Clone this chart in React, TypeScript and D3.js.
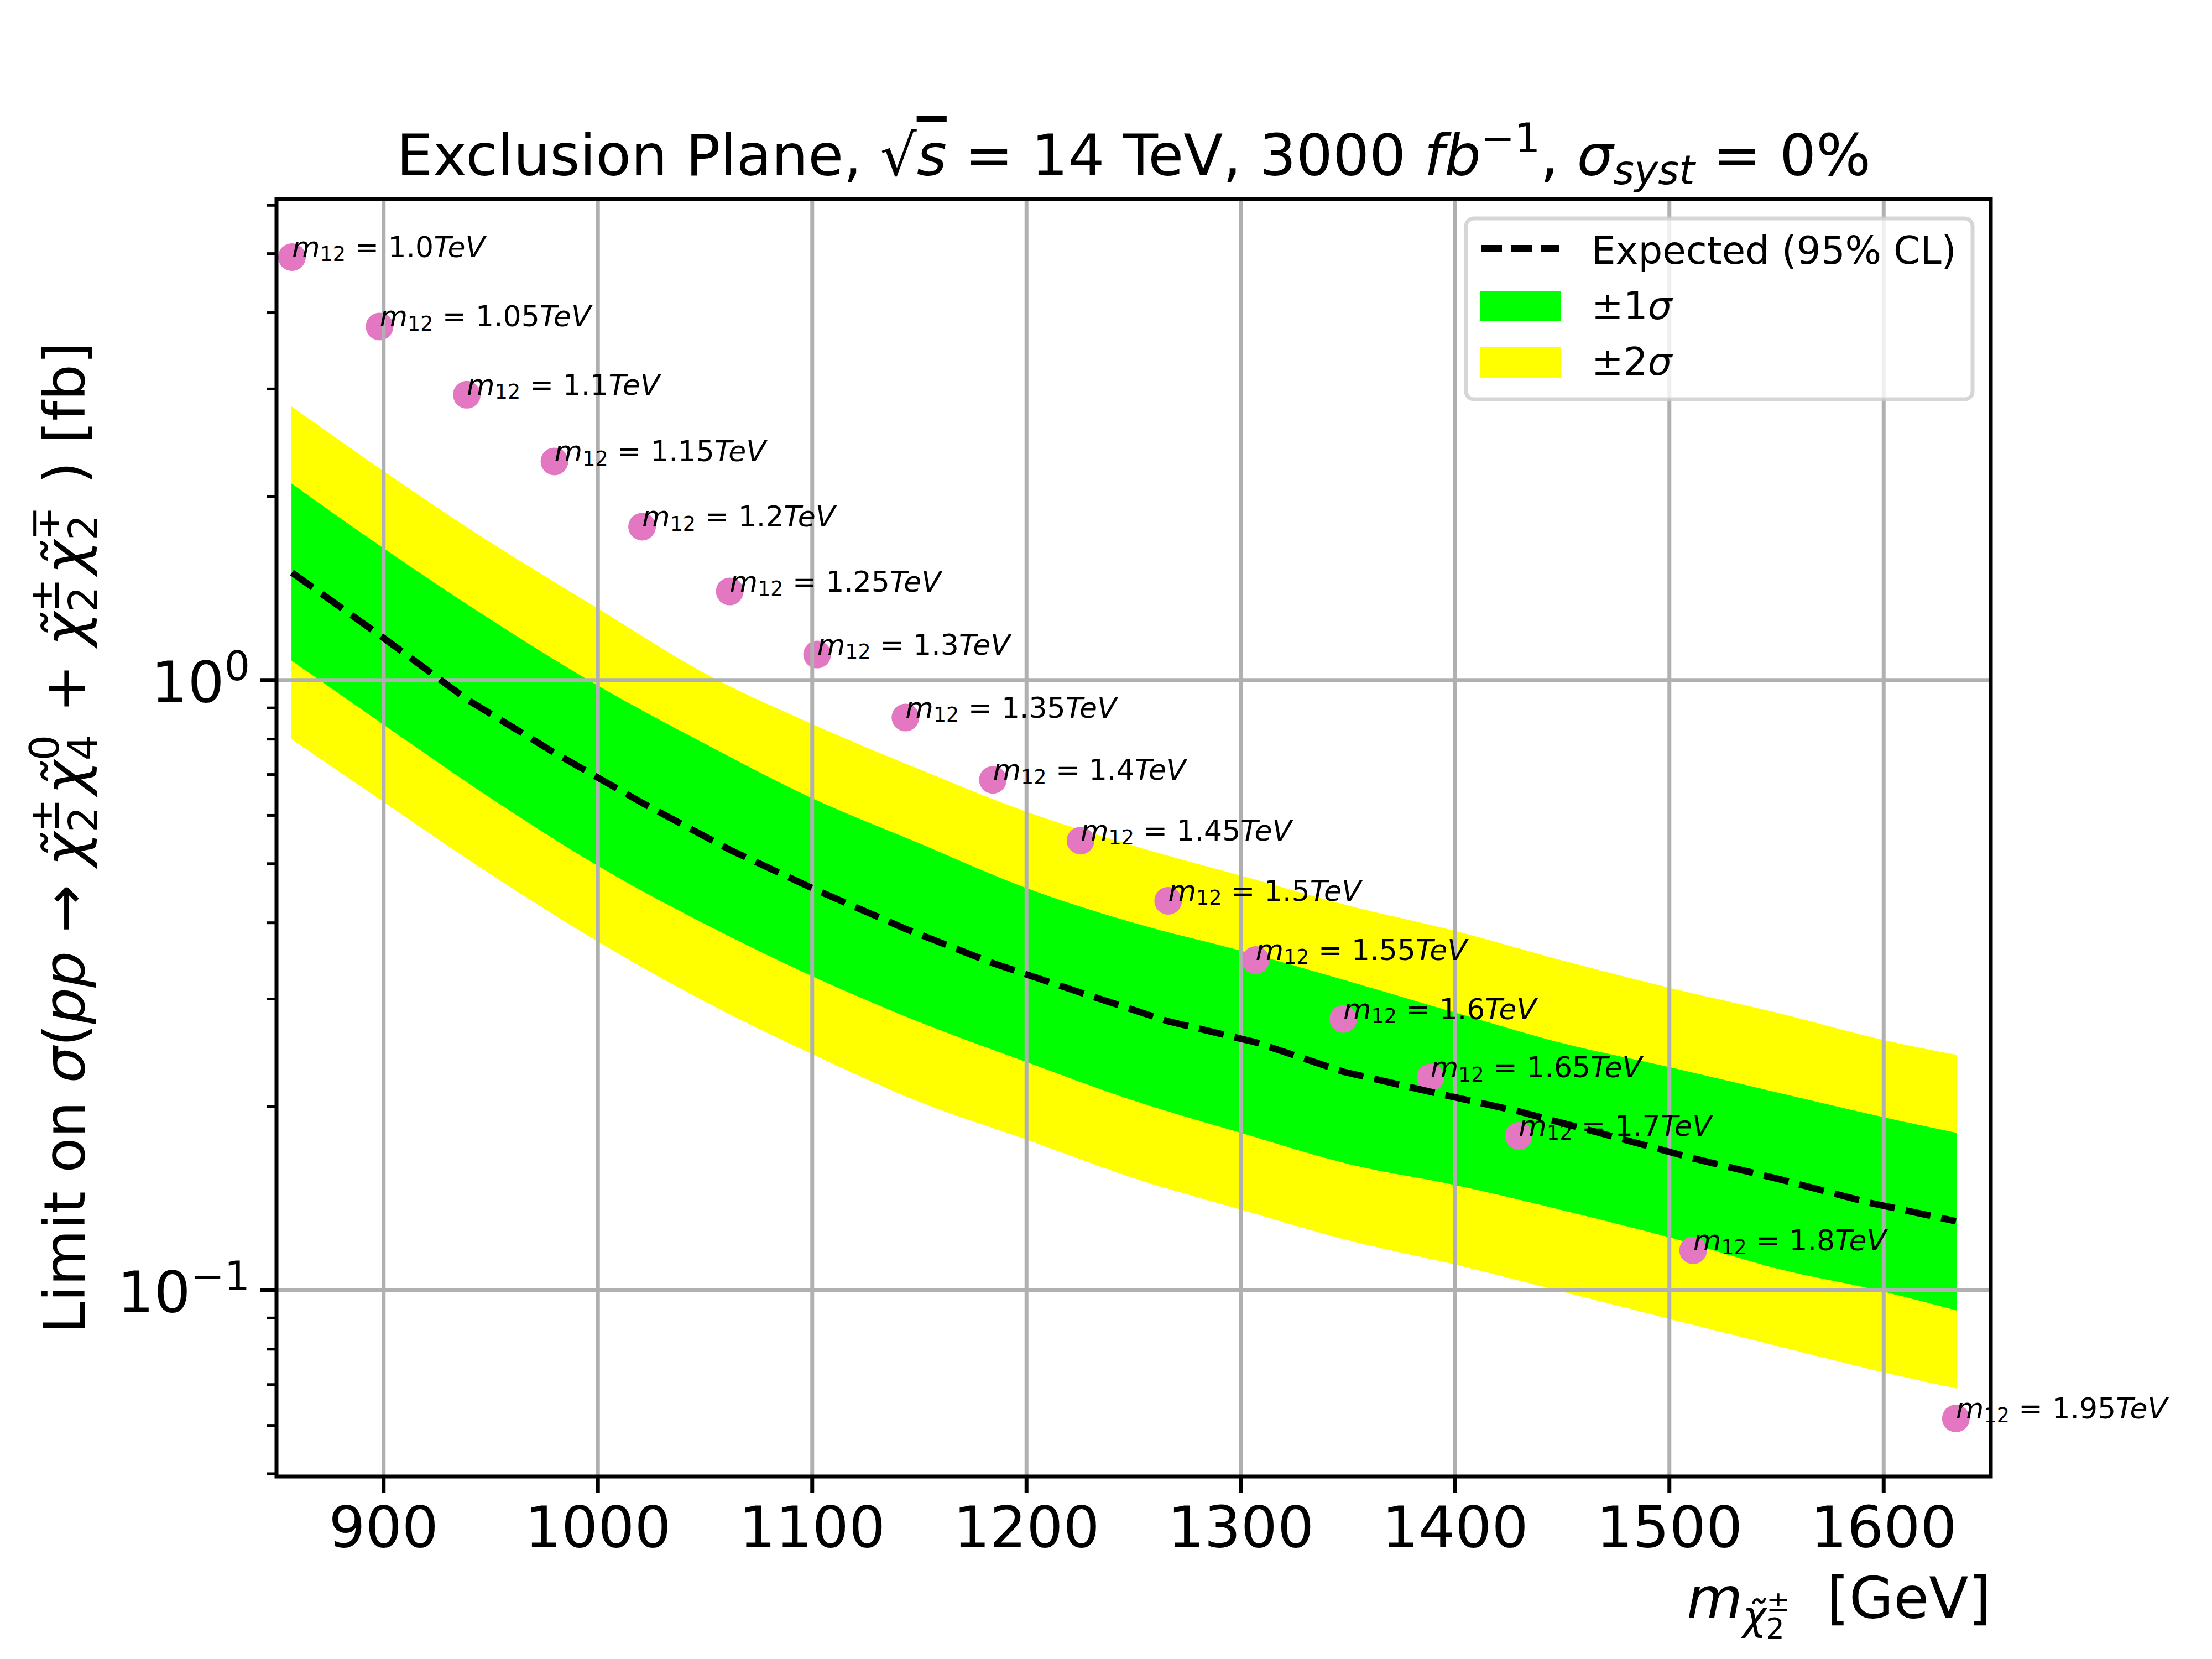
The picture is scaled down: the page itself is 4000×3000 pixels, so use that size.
import * as d3 from "d3";

// ---- data ----
const bandMass = [857, 900, 950, 1000, 1050, 1100, 1150, 1200, 1250, 1300, 1350, 1400, 1450, 1500, 1550, 1600, 1634];
const twoSigmaUp = [2.81, 2.2, 1.68, 1.31, 1.025, 0.847, 0.714, 0.608, 0.535, 0.478, 0.427, 0.388, 0.347, 0.313, 0.285, 0.257, 0.243];
const oneSigmaUp = [2.1, 1.644, 1.256, 0.979, 0.786, 0.64, 0.54, 0.456, 0.4, 0.36, 0.321, 0.285, 0.254, 0.232, 0.211, 0.192, 0.181];
const oneSigmaDown = [1.076, 0.845, 0.64, 0.496, 0.398, 0.327, 0.275, 0.2365, 0.2044, 0.181, 0.161, 0.1486, 0.1352, 0.122, 0.1085, 0.0994, 0.0926];
const twoSigmaDown = [0.8, 0.631, 0.48, 0.3725, 0.297, 0.2436, 0.2035, 0.1765, 0.1526, 0.1355, 0.1207, 0.1101, 0.0994, 0.0897, 0.081, 0.0733, 0.069];

const expMass = [857.2, 898.1, 938.8, 979.7, 1020.6, 1061.5, 1102.3, 1143.5, 1184.3, 1225.2, 1266.1, 1306.9, 1347.8, 1388.5, 1429.7, 1470.4, 1511.1, 1551.9, 1592.8, 1633.7];
const expLimit = [1.5, 1.185, 0.93, 0.76, 0.629, 0.527, 0.452, 0.391, 0.3435, 0.3074, 0.2758, 0.2548, 0.228, 0.2113, 0.1963, 0.1798, 0.1644, 0.1518, 0.1392, 0.1297];

const m12Labels = ["1.0", "1.05", "1.1", "1.15", "1.2", "1.25", "1.3", "1.35", "1.4", "1.45", "1.5", "1.55", "1.6", "1.65", "1.7", "1.8", "1.95"];
const pointMass = [857.2, 898.1, 938.8, 979.7, 1020.6, 1061.5, 1102.3, 1143.5, 1184.3, 1225.2, 1266.1, 1306.9, 1347.8, 1388.5, 1429.7, 1511.1, 1633.7];
const pointXsec = [4.934, 3.797, 2.935, 2.282, 1.784, 1.397, 1.101, 0.868, 0.686, 0.5454, 0.4346, 0.3475, 0.2782, 0.2231, 0.179, 0.1162, 0.0616];

const xTicks = [900, 1000, 1100, 1200, 1300, 1400, 1500, 1600];
const yTicks = [0.1, 1];
const yTickExp = ["\u22121", "0"];

// ---- layout ----
const W = 4000;
const H = 3000;
const L = 500;
const R = 3600;
const T = 360;
const B = 2670;
const FONT = "DejaVu Sans";
const FS = 104;

type Seg = { t: string; it?: boolean; s?: number; sh?: number; dx?: number; over?: boolean };

const charW: Record<string, number> = { "\u00b1": 0.838, "\u2213": 0.838, "0": 0.636, "1": 0.636, "2": 0.636, "4": 0.636 };
const wOf = (s: string) => s.split("").reduce((a, c) => a + (charW[c] ?? 0.6), 0);

function stack(sup: string, sub: string, s = 0.7, base = 0, k = 1): Seg[] {
  const supSeg: Seg = { t: sup, s, sh: base + 0.45 * k };
  const subSeg: Seg = { t: sub, s, sh: base - 0.22 * k };
  const wSup = wOf(sup) * s;
  const wSub = wOf(sub) * s;
  if (wSup >= wSub) return [subSeg, { ...supSeg, dx: -wSub }];
  return [supSeg, { ...subSeg, dx: -wSup }];
}

function Rich({ segs, fs }: { segs: Seg[]; fs: number }) {
  let cur = 0;
  return (
    <>
      {segs.map((g, i) => {
        const sh = g.sh ?? 0;
        const dy = -(sh - cur) * fs;
        cur = sh;
        return (
          <tspan
            key={i}
            dy={dy ? dy : undefined}
            dx={g.dx ? g.dx * fs : undefined}
            fontSize={(g.s ?? 1) * fs}
            fontStyle={g.it ? "italic" : undefined}
            textDecoration={g.over ? "overline" : undefined}
          >
            {g.t}
          </tspan>
        );
      })}
    </>
  );
}

const chi = "\u03c7\u0303";
const scriptSpace = 0.07;

const titleSegs: Seg[] = [
  { t: "Exclusion Plane, " },
  { t: "\u221a" },
  { t: "s", it: true, over: true },
  { t: " = 14 TeV, 3000 " },
  { t: "fb", it: true },
  { t: "\u22121", s: 0.7, sh: 0.4 },
  { t: ", ", sh: 0 },
  { t: "\u03c3", it: true },
  { t: "syst", it: true, s: 0.7, sh: -0.15 },
  { t: " = 0%", sh: 0 },
];

const ylabelSegs: Seg[] = [
  { t: "Limit on " },
  { t: "\u03c3", it: true },
  { t: "(" },
  { t: "pp", it: true },
  { t: " \u2192 " },
  { t: chi, it: true },
  ...stack("\u00b1", "2"),
  { t: chi, it: true, sh: 0, dx: scriptSpace },
  ...stack("0", "4"),
  { t: " + ", sh: 0, dx: scriptSpace },
  { t: chi, it: true },
  ...stack("\u00b1", "2"),
  { t: chi, it: true, sh: 0, dx: scriptSpace },
  ...stack("\u2213", "2"),
  { t: " )", sh: 0, dx: scriptSpace },
  { t: " [fb]" },
];

const xlabelSegs: Seg[] = [
  { t: "m", it: true },
  { t: chi, it: true, s: 0.7, sh: -0.2 },
  ...stack("\u00b1", "2", 0.49, -0.2, 0.7),
  { t: "  [GeV]", sh: 0 },
];

export default function App() {
  const x = d3.scaleLinear().domain([850, 1650]).range([L, R]);
  const lmin = Math.log10(d3.min(pointXsec) as number);
  const lmax = Math.log10(d3.max(pointXsec) as number);
  const pad = 0.05 * (lmax - lmin);
  const y = d3
    .scaleLog()
    .domain([Math.pow(10, lmin - pad), Math.pow(10, lmax + pad)])
    .range([B, T]);

  const [y0, y1] = y.domain();
  const minor: number[] = [];
  for (let k = -2; k <= 1; k++) {
    for (let d = 2; d <= 9; d++) {
      const v = d * Math.pow(10, k);
      if (v >= y0 && v <= y1) minor.push(v);
    }
  }

  const band = (lo: number[], hi: number[]) =>
    d3
      .area<number>()
      .x((m) => x(m))
      .y0((_, i) => y(lo[i]))
      .y1((_, i) => y(hi[i]))
      .curve(d3.curveMonotoneX)(bandMass) as string;

  const expPath = d3
    .line<number>()
    .x((m) => x(m))
    .y((_, i) => y(expLimit[i]))(expMass) as string;

  return (
    <svg
      width={W}
      height={H}
      viewBox={`0 0 ${W} ${H}`}
      style={{ position: "absolute", left: 0, top: 0, display: "block", background: "#ffffff" }}
      fontFamily={FONT}
      xmlSpace="preserve"
    >
      <rect x={0} y={0} width={W} height={H} fill="#ffffff" />

      {/* bands */}
      <path d={band(twoSigmaDown, twoSigmaUp)} fill="#ffff00" />
      <path d={band(oneSigmaDown, oneSigmaUp)} fill="#00ff00" />

      {/* scatter points */}
      {pointMass.map((m, i) => (
        <circle key={`p${i}`} cx={x(m)} cy={y(pointXsec[i])} r={25} fill="#e377c2" />
      ))}

      {/* grid */}
      {xTicks.map((t) => (
        <line key={`gx${t}`} x1={x(t)} x2={x(t)} y1={T} y2={B} stroke="#b0b0b0" strokeWidth={7} />
      ))}
      {yTicks.map((t) => (
        <line key={`gy${t}`} x1={L} x2={R} y1={y(t)} y2={y(t)} stroke="#b0b0b0" strokeWidth={7} />
      ))}

      {/* expected */}
      <path d={expPath} fill="none" stroke="#000000" strokeWidth={12} strokeDasharray="46 20" />

      {/* annotations */}
      {pointMass.map((m, i) => (
        <text key={`a${i}`} x={x(m)} y={y(pointXsec[i])} fontSize={52} fill="#000" style={{ whiteSpace: "pre" }}>
          <Rich
            fs={52}
            segs={[
              { t: "m", it: true },
              { t: "12", s: 0.7, sh: -0.14 },
              { t: ` = ${m12Labels[i]}`, sh: 0 },
              { t: "TeV", it: true },
            ]}
          />
        </text>
      ))}

      {/* spines */}
      <rect x={L} y={T} width={R - L} height={B - T} fill="none" stroke="#000" strokeWidth={7} />

      {/* x ticks */}
      {xTicks.map((t) => (
        <g key={`xt${t}`}>
          <line x1={x(t)} x2={x(t)} y1={B} y2={B + 30} stroke="#000" strokeWidth={7} />
          <text x={x(t)} y={2798} fontSize={FS} textAnchor="middle" fill="#000">
            {t}
          </text>
        </g>
      ))}

      {/* y ticks */}
      {minor.map((v) => (
        <line key={`ym${v}`} x1={L} x2={L - 17} y1={y(v)} y2={y(v)} stroke="#000" strokeWidth={5} />
      ))}
      {yTicks.map((t, i) => (
        <g key={`yt${t}`}>
          <line x1={L} x2={L - 30} y1={y(t)} y2={y(t)} stroke="#000" strokeWidth={7} />
          <text x={452} y={y(t) + 40} fontSize={FS} textAnchor="end" fill="#000">
            <tspan>10</tspan>
            <tspan fontSize={FS * 0.7} dy={-40}>
              {yTickExp[i]}
            </tspan>
          </text>
        </g>
      ))}

      {/* title */}
      <text x={(L + R) / 2} y={317} fontSize={FS} textAnchor="middle" fill="#000" style={{ whiteSpace: "pre" }}>
        <Rich fs={FS} segs={titleSegs} />
      </text>

      {/* y label */}
      <text
        transform={`translate(153, ${(T + B) / 2}) rotate(-90)`}
        fontSize={FS}
        textAnchor="middle"
        fill="#000"
        style={{ whiteSpace: "pre" }}
      >
        <Rich fs={FS} segs={ylabelSegs} />
      </text>

      {/* x label */}
      <text x={R} y={2926} fontSize={FS} textAnchor="end" fill="#000" style={{ whiteSpace: "pre" }}>
        <Rich fs={FS} segs={xlabelSegs} />
      </text>

      {/* legend */}
      <g>
        <rect
          x={2651}
          y={395}
          width={916}
          height={327}
          rx={14}
          fill="#ffffff"
          fillOpacity={0.8}
          stroke="#cccccc"
          strokeOpacity={0.8}
          strokeWidth={7}
        />
        <line x1={2679} x2={2819} y1={449} y2={449} stroke="#000" strokeWidth={12} strokeDasharray="37 17" />
        <rect x={2676} y={526} width={146} height={55} fill="#00ff00" />
        <rect x={2676} y={627} width={146} height={56} fill="#ffff00" />
        <text x={2878} y={477} fontSize={69} fill="#000">
          Expected (95% CL)
        </text>
        <text x={2878} y={577} fontSize={69} fill="#000">
          <tspan>{"\u00b11"}</tspan>
          <tspan fontStyle="italic">{"\u03c3"}</tspan>
        </text>
        <text x={2878} y={678} fontSize={69} fill="#000">
          <tspan>{"\u00b12"}</tspan>
          <tspan fontStyle="italic">{"\u03c3"}</tspan>
        </text>
      </g>
    </svg>
  );
}
